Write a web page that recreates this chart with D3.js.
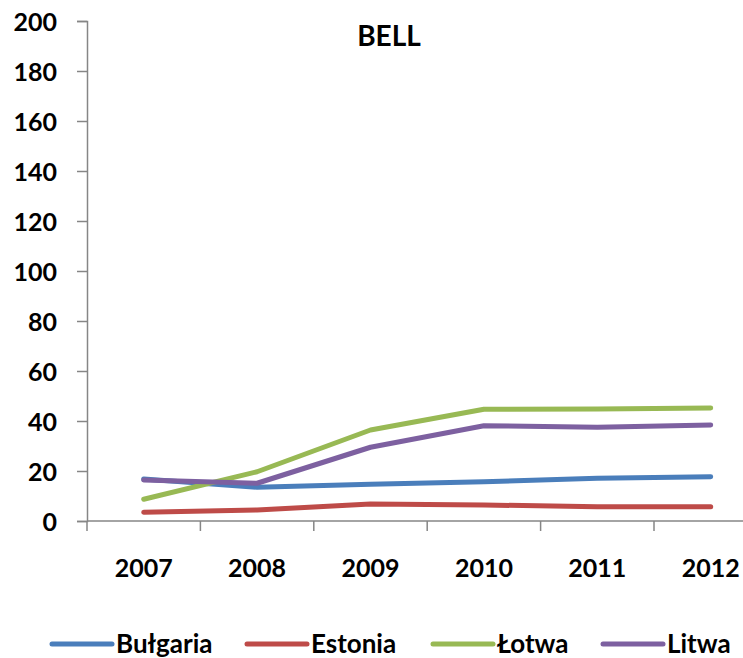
<!DOCTYPE html>
<html>
<head>
<meta charset="utf-8">
<script src="https://cdn.jsdelivr.net/npm/d3@7"></script>
<style>
  html, body { margin: 0; padding: 0; background: #fff; }
  svg text { font-family: Lato, "Open Sans", sans-serif; font-weight: 700; fill: #000; }
</style>
</head>
<body>
<svg id="chart" width="743" height="658"></svg>
<script>
// Years on the category axis
const years = ["2007", "2008", "2009", "2010", "2011", "2012"];

// Series values per country
const bulgaria = [16.8, 13.5, 14.7, 15.7, 17.1, 17.7];
const estonia  = [3.5, 4.4, 6.8, 6.4, 5.7, 5.7];
const lotwa    = [8.7, 19.7, 36.4, 44.7, 44.8, 45.2];
const litwa    = [16.4, 15.1, 29.5, 38.1, 37.5, 38.4];

const seriesNames  = ["Bułgaria", "Estonia", "Łotwa", "Litwa"];
const seriesValues = [bulgaria, estonia, lotwa, litwa];
const seriesColors = ["#4a7ebb", "#be4b48", "#98b954", "#7d60a0"];

// Value axis ticks
const yTicks = [0, 20, 40, 60, 80, 100, 120, 140, 160, 180, 200];

const svg = d3.select("#chart");

const plotLeft = 87, plotTop = 21, plotBottom = 521;
const bandW = 113.4;

const x = d3.scaleBand().domain(years).range([plotLeft, plotLeft + bandW * years.length]).padding(0);
const y = d3.scaleLinear().domain([0, 200]).range([plotBottom, plotTop]);

// Y axis
const yAxis = svg.append("g")
  .attr("transform", `translate(${plotLeft},0)`)
  .call(d3.axisLeft(y).tickValues(yTicks).tickSize(10).tickPadding(20));
yAxis.select(".domain").attr("stroke", "#868686").attr("stroke-width", 1.5);
yAxis.selectAll(".tick line").attr("stroke", "#868686").attr("stroke-width", 1.5);
yAxis.selectAll(".tick text").style("font-size", "25px").attr("dy", "0.36em");

// X axis: labels centred in each band, tick marks on band edges
const xAxis = svg.append("g")
  .attr("transform", `translate(0,${plotBottom})`)
  .call(d3.axisBottom(x).tickSize(0).tickPadding(38));
xAxis.select(".domain").remove();
xAxis.selectAll(".tick text").style("font-size", "25px");

svg.append("line")
  .attr("x1", plotLeft).attr("x2", 743)
  .attr("y1", plotBottom).attr("y2", plotBottom)
  .attr("stroke", "#868686").attr("stroke-width", 1.5);

svg.append("g").selectAll("line")
  .data(years)
  .join("line")
  .attr("x1", d => x(d)).attr("x2", d => x(d))
  .attr("y1", plotBottom).attr("y2", plotBottom + 10)
  .attr("stroke", "#868686").attr("stroke-width", 1.5);

// Series lines
const line = d3.line()
  .x((d, i) => x(years[i]) + x.bandwidth() / 2)
  .y(d => y(d));

svg.append("g").selectAll("path")
  .data(seriesValues)
  .join("path")
  .attr("d", d => line(d))
  .attr("fill", "none")
  .attr("stroke", (d, i) => seriesColors[i])
  .attr("stroke-width", 5)
  .attr("stroke-linecap", "round")
  .attr("stroke-linejoin", "round");

// Title
svg.append("text")
  .attr("x", 389).attr("y", 46)
  .attr("text-anchor", "middle")
  .style("font-size", "28px")
  .text("BELL");

// Legend
const legendX = [52, 247, 433, 603];
const legend = svg.append("g").selectAll("g")
  .data(seriesNames)
  .join("g")
  .attr("transform", (d, i) => `translate(${legendX[i]},644)`);
legend.append("line")
  .attr("x1", 0).attr("x2", 60)
  .attr("y1", 0).attr("y2", 0)
  .attr("stroke", (d, i) => seriesColors[i])
  .attr("stroke-width", 5)
  .attr("stroke-linecap", "round");
legend.append("text")
  .attr("x", 64).attr("y", 9)
  .style("font-size", "26px")
  .text(d => d);
</script>
</body>
</html>
